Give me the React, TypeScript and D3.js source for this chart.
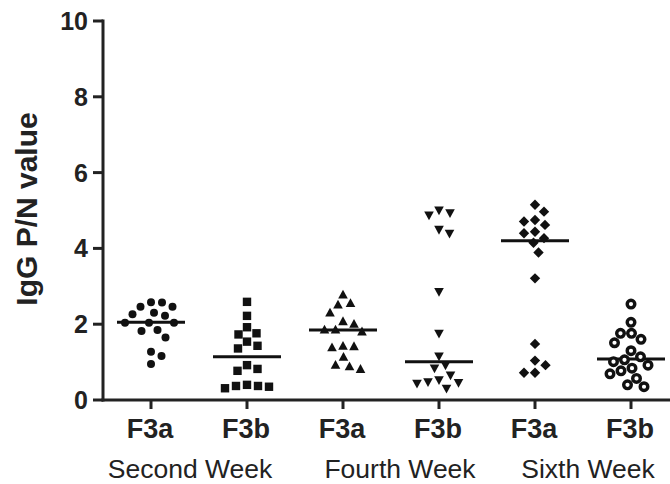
import React, { useMemo } from "react";
import * as d3 from "d3";

const categories = ["F3a", "F3b", "F3a", "F3b", "F3a", "F3b"];
const weekLabels = ["Second Week", "Fourth Week", "Sixth Week"];
const yTicks = [0, 2, 4, 6, 8, 10];

const g1 = [2.57, 2.46, 2.46, 2.58, 2.22, 2.30, 2.26, 2.04, 2.04, 2.04, 1.85, 1.82, 1.65, 1.27, 1.16, 0.95];
const g2 = [2.59, 2.22, 1.92, 1.76, 1.54, 1.73, 1.36, 1.43, 0.82, 0.77, 0.92, 0.40, 0.35, 0.31, 0.37, 0.37];
const g3 = [2.77, 2.55, 2.51, 2.30, 2.00, 2.07, 1.85, 1.80, 1.85, 1.38, 1.42, 1.41, 1.13, 0.92, 0.81, 0.88];
const g4 = [5.01, 4.88, 4.94, 4.50, 4.40, 2.86, 1.76, 1.16, 0.84, 0.92, 0.66, 0.53, 0.46, 0.31, 0.44, 0.48];
const g5 = [5.15, 4.97, 4.75, 4.62, 4.71, 4.40, 4.27, 4.44, 4.15, 3.89, 3.21, 1.48, 0.92, 1.04, 0.72, 0.72];
const g6 = [2.53, 2.05, 1.76, 1.76, 1.60, 1.51, 1.30, 0.92, 1.06, 1.14, 1.01, 0.84, 0.77, 0.69, 0.57, 0.35, 0.40];
const groups = [g1, g2, g3, g4, g5, g6];
const medians = [2.05, 1.14, 1.85, 1.01, 4.20, 1.08];
const shapes = ["circle", "square", "triangle", "triangleDown", "diamond", "ring"];

const W = 670, H = 484;
const x0 = 103, x1 = 679, yTop = 21, yBot = 400;
// layout: horizontal shift of each week label relative to its pair centre
const weekShift = [-9, 9, 5];

function swarm(vals: number[], y: d3.ScaleLinear<number, number>, d: number) {
  const placed: { px: number; py: number; v: number }[] = [];
  const order = vals.map((v, i) => ({ v, i })).sort((a, b) => b.v - a.v);
  for (const o of order) {
    const py = y(o.v);
    let off = 0;
    for (let k = 0; k < 200; k++) {
      const cand = k === 0 ? 0 : (k % 2 === 1 ? 1 : -1) * Math.ceil(k / 2) * 0.5;
      const ok = placed.every(p => Math.hypot(p.px - cand, p.py - py) >= d);
      if (ok) { off = cand; break; }
    }
    placed.push({ px: off, py, v: o.v });
  }
  return placed;
}

function Marker({ shape, cx, cy }: { shape: string; cx: number; cy: number }) {
  switch (shape) {
    case "circle":
      return <circle cx={cx} cy={cy} r={4} fill="#111" />;
    case "square":
      return <rect x={cx - 4.2} y={cy - 4.2} width={8.4} height={8.4} fill="#111" />;
    case "triangle":
      return <path d={`M${cx},${cy - 5.2}L${cx + 4.8},${cy + 3.6}L${cx - 4.8},${cy + 3.6}Z`} fill="#111" />;
    case "triangleDown":
      return <path d={`M${cx},${cy + 5.2}L${cx + 4.8},${cy - 3.6}L${cx - 4.8},${cy - 3.6}Z`} fill="#111" />;
    case "diamond":
      return <path d={`M${cx},${cy - 5.2}L${cx + 5.2},${cy}L${cx},${cy + 5.2}L${cx - 5.2},${cy}Z`} fill="#111" />;
    default:
      return <circle cx={cx} cy={cy} r={3.8} fill="#fff" stroke="#111" strokeWidth={3.4} />;
  }
}

export default function App() {
  const x = useMemo(() => d3.scaleBand<number>().domain(d3.range(6)).range([x0, x1]), []);
  const y = useMemo(() => d3.scaleLinear().domain([0, 10]).range([yBot, yTop]), []);
  const font = "'Liberation Sans', Arial, sans-serif";
  return (
    <svg width={W} height={H} style={{ position: "absolute", left: 0, top: 0, background: "#fff" }}>
      <g fontFamily={font}>
        {/* y axis */}
        <line x1={x0} x2={x0} y1={yTop - 1.5} y2={yBot + 1.5} stroke="#222" strokeWidth={3} />
        {yTicks.map(t => (
          <g key={t}>
            <line x1={x0 - 10} x2={x0} y1={y(t)} y2={y(t)} stroke="#222" strokeWidth={3} />
            <text x={x0 - 15} y={y(t)} dy="0.36em" textAnchor="end" fontSize={25} fontWeight="bold" fill="#222">{t}</text>
          </g>
        ))}
        <text transform={`translate(37,${209}) rotate(-90)`} textAnchor="middle" fontSize={30} fontWeight="bold" fill="#222">IgG P/N value</text>
        {/* x axis */}
        <line x1={x0 - 1.5} x2={W} y1={yBot} y2={yBot} stroke="#222" strokeWidth={3} />
        {categories.map((c, i) => {
          const cx = x(i)! + x.bandwidth() / 2;
          return (
            <g key={i}>
              <line x1={cx} x2={cx} y1={yBot} y2={yBot + 9} stroke="#222" strokeWidth={3} />
              <text x={cx - 1} y={438} textAnchor="middle" fontSize={27} fontWeight="bold" fill="#222">{c}</text>
            </g>
          );
        })}
        {weekLabels.map((w, i) => {
          const cx = (x(i * 2)! + x(i * 2 + 1)! + x.bandwidth()) / 2 + weekShift[i];
          return <text key={w} x={cx} y={478} textAnchor="middle" fontSize={26.5} fill="#222">{w}</text>;
        })}
        {/* points */}
        {groups.map((vals, gi) => {
          const cx = x(gi)! + x.bandwidth() / 2;
          const pts = swarm(vals, y, 11);
          return (
            <g key={gi}>
              <line x1={cx - 34} x2={cx + 34} y1={y(medians[gi])} y2={y(medians[gi])} stroke="#111" strokeWidth={3} />
              {pts.map((p, k) => <Marker key={k} shape={shapes[gi]} cx={cx + p.px} cy={p.py} />)}
            </g>
          );
        })}
      </g>
    </svg>
  );
}
